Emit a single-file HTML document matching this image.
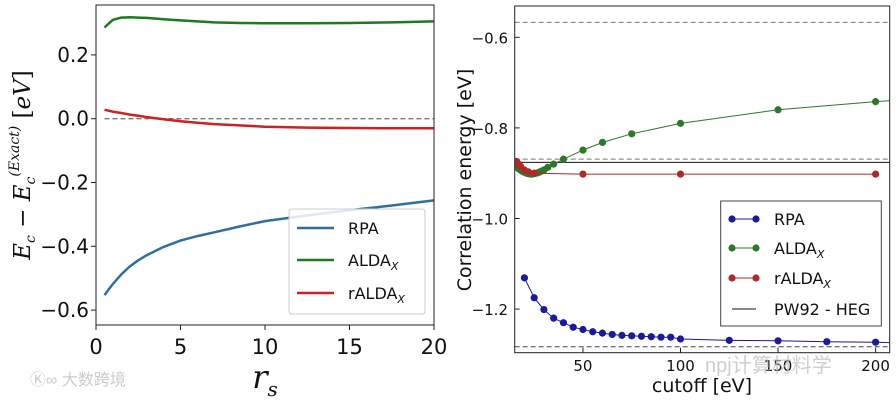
<!DOCTYPE html>
<html><head><meta charset="utf-8"><style>
html,body{margin:0;padding:0;background:#fff;}
svg{display:block;font-family:"DejaVu Sans","Liberation Sans",sans-serif;}
</style></head><body>
<svg id="fig" width="896" height="400" viewBox="0 0 896 400">
<g id="left"></g>
<g id="right"></g>
<text x="30" y="385" font-size="16" fill="#ccc" font-family="Liberation Sans, Noto Sans CJK SC, sans-serif">Ⓚ∞ 大数跨境</text>
<text x="705" y="372" font-size="20" fill="#bbb" fill-opacity="0.7" font-family="Liberation Sans, Noto Sans CJK SC, sans-serif">npj计算材料学</text>
</svg>
<script>
// ---- Left chart data ----
const rsX = [0.5,0.75,1,1.5,2,2.5,3,4,5,6,7,8.5,10,12.5,15,17.5,20];
const rpaL = [-0.553,-0.535,-0.518,-0.488,-0.463,-0.444,-0.428,-0.402,-0.382,-0.368,-0.356,-0.338,-0.321,-0.303,-0.287,-0.272,-0.256];
const aldaL = [0.286,0.298,0.31,0.317,0.318,0.317,0.316,0.312,0.308,0.305,0.302,0.300,0.299,0.299,0.300,0.302,0.305];
const raldaL = [0.028,0.025,0.022,0.018,0.013,0.009,0.005,-0.002,-0.008,-0.013,-0.017,-0.021,-0.025,-0.028,-0.029,-0.030,-0.030];
const leftXTicks = [0,5,10,15,20];
const leftYTicks = [0.2,0.0,-0.2,-0.4,-0.6];
const leftYLabels = ["0.2","0.0","\u22120.2","\u22120.4","\u22120.6"];
// ---- Right chart data ----
const rpaX = [20,25,30,35,40,45,50,55,60,65,70,75,80,85,90,95,100,125,150,175,200,207];
const rpaR = [-1.131,-1.175,-1.201,-1.220,-1.230,-1.240,-1.245,-1.250,-1.253,-1.256,-1.258,-1.259,-1.260,-1.261,-1.262,-1.262,-1.266,-1.269,-1.270,-1.272,-1.273,-1.274];
const aldaX = [16,17,18,19,20,21,22,23,24,25,26,27,28,29,30,32,35,40,50,60,75,100,150,200,207];
const aldaR = [-0.886,-0.890,-0.893,-0.896,-0.898,-0.900,-0.901,-0.902,-0.902,-0.901,-0.900,-0.899,-0.897,-0.895,-0.893,-0.887,-0.880,-0.869,-0.849,-0.832,-0.813,-0.790,-0.760,-0.742,-0.740];
const raldaX = [16,17,18,20,22,25,50,100,200];
const raldaR = [-0.874,-0.880,-0.885,-0.893,-0.897,-0.900,-0.902,-0.902,-0.902];
const refLines = [-0.567,-0.869,-1.283];
const hegLine = [-0.876];
const rightXTicks = [50,100,150,200];
const rightYTicks = [-0.6,-0.8,-1.0,-1.2];
const rightYLabels = ["\u22120.6","\u22120.8","\u22121.0","\u22121.2"];

const NS="http://www.w3.org/2000/svg";
function mk(parent,tag,attrs,text){const e=document.createElementNS(NS,tag);for(const k in attrs)e.setAttribute(k,attrs[k]);if(text!==undefined)e.textContent=text;parent.appendChild(e);return e;}

// Left axes
const L={x0:96,x1:434,y0:5,y1:325};
const lx=v=>96+v*16.9;
const ly=v=>118.7-v*319;
const gl=document.getElementById('left');
function lpath(xs,ys,color,name){
  const d=xs.map((x,i)=>(i?'L':'M')+lx(x).toFixed(1)+','+ly(ys[i]).toFixed(1)).join('');
  const p=mk(gl,'path',{d:d,fill:'none',stroke:color,'stroke-width':2.5,'stroke-linejoin':'round'});
  
  
}
const zl=mk(gl,'line',{x1:lx(0.5),x2:L.x1,y1:ly(0),y2:ly(0),stroke:'#777','stroke-width':1.3,'stroke-dasharray':'5,3'});


lpath(rsX,rpaL,'#2f6f9f','rpa-line');
lpath(rsX,aldaL,'#1f7a1f','alda-line');
lpath(rsX,raldaL,'#d02020','ralda-line');
const lb=mk(gl,'rect',{x:L.x0,y:L.y0,width:L.x1-L.x0,height:L.y1-L.y0,fill:'none',stroke:'#222','stroke-width':1});


leftXTicks.forEach(v=>{
  mk(gl,'line',{x1:lx(v),x2:lx(v),y1:L.y1,y2:L.y1+5,stroke:'#222'});
  const t=mk(gl,'text',{x:lx(v),y:354,'font-size':21,'text-anchor':'middle',fill:'#111'},String(v));
  
  
});
leftYTicks.forEach((v,i)=>{
  mk(gl,'line',{x1:L.x0-5,x2:L.x0,y1:ly(v),y2:ly(v),stroke:'#222'});
  const t=mk(gl,'text',{x:89,y:ly(v)+7,'font-size':20,'text-anchor':'end',fill:'#111'},leftYLabels[i]);
  
  
});
const rsT=mk(gl,'text',{x:265,y:388,'font-size':32,'font-style':'italic','font-family':'DejaVu Serif, Liberation Serif, serif','text-anchor':'middle',fill:'#111'});
rsT.innerHTML='r<tspan font-size="20" dy="8">s</tspan>';


const lyt=mk(gl,'text',{transform:'translate(30,165) rotate(-90)','font-size':23,'font-style':'italic','font-family':'DejaVu Serif, Liberation Serif, serif','text-anchor':'middle',fill:'#111'});
lyt.innerHTML='E<tspan font-size="14" dy="5">c</tspan><tspan dy="-5"> − E</tspan><tspan font-size="14" dy="5">c</tspan><tspan font-size="14" dy="-16">(Exact)</tspan><tspan dy="11" font-style="normal"> [</tspan><tspan>eV</tspan><tspan font-style="normal">]</tspan>';


const lleg=mk(gl,'g',{});


mk(lleg,'rect',{x:289,y:209,width:136,height:105,rx:3,fill:'#fff','fill-opacity':0.85,stroke:'#ccc'});
[['RPA','#2f6f9f',228],['ALDA','#1f7a1f',260],['rALDA','#d02020',293]].forEach(e=>{
  mk(lleg,'line',{x1:297,x2:334,y1:e[2],y2:e[2],stroke:e[1],'stroke-width':2.5});
  const t=mk(lleg,'text',{x:348,y:e[2]+6,'font-size':16,fill:'#111'});
  t.innerHTML=e[0]+(e[0]!=='RPA'?'<tspan font-size="11" dy="4" font-style="italic">X</tspan>':'');
  
  
});

// Right axes
const R={x0:514.7,x1:889.7,y0:6,y1:352.7};
const rx=v=>485.4+v*1.951;
const ry=v=>37.3-(v+0.6)*453;
const gr=document.getElementById('right');
mk(gr,'defs',{}).innerHTML='<clipPath id="rc"><rect x="514.7" y="6" width="375" height="346.7"/></clipPath>';
const plot=mk(gr,'g',{'clip-path':'url(#rc)'});


['#3a8a3a','#b03030','#303090'].forEach((c,i)=>{
  const l=mk(plot,'line',{x1:R.x0,x2:R.x1,y1:ry(refLines[i]),y2:ry(refLines[i]),stroke:i===2?'#445':'#777','stroke-width':1,'stroke-dasharray':'5,3'});
  
  
});
const hl=mk(plot,'line',{x1:R.x0,x2:R.x1,y1:ry(hegLine[0]),y2:ry(hegLine[0]),stroke:'#111','stroke-width':1});


function rseries(xs,ys,color,name,dots){
  const d=xs.map((x,i)=>(i?'L':'M')+rx(x).toFixed(1)+','+ry(ys[i]).toFixed(1)).join('');
  const p=mk(plot,'path',{d:d,fill:'none',stroke:color,'stroke-width':1});
  
  
  xs.forEach((x,i)=>{ if(x>dots) return;
    const c=mk(plot,'circle',{cx:rx(x),cy:ry(ys[i]),r:3.6,fill:color});
    
    
  });
}
rseries(rpaX,rpaR,'#1a1a9a','rpa',200);
rseries(aldaX,aldaR,'#2a7a2a','alda',200);
rseries(raldaX,raldaR,'#b02828','ralda',200);
const rb=mk(gr,'rect',{x:R.x0,y:R.y0,width:R.x1-R.x0,height:R.y1-R.y0,fill:'none',stroke:'#222','stroke-width':1});


rightXTicks.forEach(v=>{
  mk(gr,'line',{x1:rx(v),x2:rx(v),y1:R.y1,y2:R.y1-5,stroke:'#222'});
  const t=mk(gr,'text',{x:rx(v),y:371,'font-size':15,'text-anchor':'middle',fill:'#111'},String(v));
  
  
});
rightYTicks.forEach((v,i)=>{
  mk(gr,'line',{x1:R.x0,x2:R.x0+5,y1:ry(v),y2:ry(v),stroke:'#222'});
  const t=mk(gr,'text',{x:508,y:ry(v)+6,'font-size':15,'text-anchor':'end',fill:'#111'},rightYLabels[i]);
  
  
});
const cx=mk(gr,'text',{x:702,y:392,'font-size':19,'text-anchor':'middle',fill:'#111'},'cutoff [eV]');


const cy=mk(gr,'text',{transform:'translate(471,180) rotate(-90)','font-size':19,'text-anchor':'middle',fill:'#111'},'Correlation energy [eV]');


const rleg=mk(gr,'g',{});


mk(rleg,'rect',{x:720.7,y:201,width:160.6,height:125,fill:'#fff',stroke:'#444'});
[['RPA','#1a1a9a',219],['ALDA','#2a7a2a',248],['rALDA','#b02828',278],['PW92 - HEG','#111',309]].forEach((e,i)=>{
  mk(rleg,'line',{x1:732,x2:756,y1:e[2],y2:e[2],stroke:e[1],'stroke-width':1});
  if(i<3){mk(rleg,'circle',{cx:732,cy:e[2],r:3.6,fill:e[1]});mk(rleg,'circle',{cx:756,cy:e[2],r:3.6,fill:e[1]});}
  const t=mk(rleg,'text',{x:774,y:e[2]+6,'font-size':16,fill:'#111'});
  t.innerHTML=e[0]+((i===1||i===2)?'<tspan font-size="11" dy="4" font-style="italic">X</tspan>':'');
  
  
});
</script>
</body></html>
